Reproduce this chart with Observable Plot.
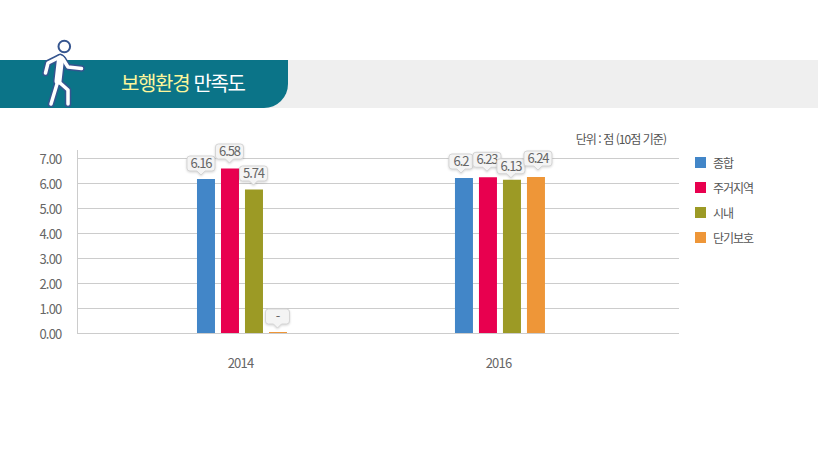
<!DOCTYPE html>
<html lang="ko">
<head>
<meta charset="utf-8">
<script src="https://cdn.jsdelivr.net/npm/d3@7"></script>
<script src="https://cdn.jsdelivr.net/npm/@observablehq/plot@0.6"></script>
<style>
  html, body { margin: 0; padding: 0; background: #fff; }
  body { width: 818px; height: 468px; overflow: hidden; position: relative;
         font-family: "Noto Sans CJK KR", "Noto Sans", sans-serif; }
  #chart { position: absolute; left: 0; top: 0; }
  #chart svg text { letter-spacing: -0.8px; }
  #chart svg text.callout { letter-spacing: -1.1px; }
  #band { position: absolute; left: 0; top: 60px; width: 818px; height: 48px; background: #efefef; }
  #tab { position: absolute; left: 0; top: 60px; width: 288px; height: 48px; background: #0b7488;
         border-bottom-right-radius: 24px; }
  #title { position: absolute; left: 121px; top: 68px; line-height: 30px; font-size: 20px;
           letter-spacing: -1.35px; color: #fff; white-space: nowrap; }
  #title b { font-weight: 400; color: #fdf69b; }
  #icon { position: absolute; left: 0; top: 0; }
  #unit { position: absolute; right: 152px; top: 130px; line-height: 18px; font-size: 12px;
          letter-spacing: -0.95px; color: #555; white-space: nowrap; }
  #legend { position: absolute; left: 695px; top: 150px; }
  .row { position: relative; height: 25px; line-height: 25px; font-size: 12px; letter-spacing: -1px;
         color: #555; padding-left: 18px; white-space: nowrap; }
  .row i { position: absolute; left: 0; top: 7px; width: 11px; height: 11px; }
</style>
</head>
<body>
<div id="band"></div>
<div id="tab"></div>
<svg id="icon" width="100" height="110" viewBox="0 0 100 110" fill="none" stroke-linecap="round" stroke-linejoin="round">
  <g stroke="#35558f">
    <path stroke-width="6.5" d="M60 57 L48 63 L45.5 73"/>
    <path stroke-width="6.5" d="M63 59 L68 67 L81.5 68.5"/>
    <path stroke-width="6.5" d="M59 82 L68 90 L68 104"/>
    <path stroke-width="6.5" d="M57 84 L51 104"/>
    <path stroke-width="10" d="M60.5 59 L58 81"/>
  </g>
  <g stroke="#fff">
    <path stroke-width="3.5" d="M60 57 L48 63 L45.5 73"/>
    <path stroke-width="3.5" d="M63 59 L68 67 L81.5 68.5"/>
    <path stroke-width="3.5" d="M59 82 L68 90 L68 104"/>
    <path stroke-width="3.5" d="M57 84 L51 104"/>
    <path stroke-width="7" d="M60.5 59 L58 81"/>
  </g>
  <circle cx="64.3" cy="46.5" r="5.8" fill="#fff" stroke="#35558f" stroke-width="2"/>
</svg>
<div id="title"><b>보행환경</b> 만족도</div>
<div id="unit">단위 : 점 (10점 기준)</div>
<div id="chart"></div>
<div id="legend"></div>
<script>
const years = [2014, 2016];
const seriesNames = ["종합", "주거지역", "시내", "단기보호"];
const colors = ["#4286c8", "#e8004f", "#9c9a25", "#ee9638"];
const values2014 = [6.16, 6.58, 5.74, 0.04];
const values2016 = [6.2, 6.23, 6.13, 6.24];
const labels2014 = ["6.16", "6.58", "5.74", "-"];
const labels2016 = ["6.2", "6.23", "6.13", "6.24"];
const yTicks = [0, 1, 2, 3, 4, 5, 6, 7];

// layout only: one year is 129px wide, one bar slot 24px, one bar 18px
const slot = 24 / 129, barWidth = 18 / 129;
const calloutNudge = [[-5, 0], [-0.5, -1.5], [-0.5, -0.5], [-0.5, 0], [-3, -1], [-1, -2], [-1, 2], [2, -3]];

const rows = years.flatMap((year, g) =>
  seriesNames.map((series, i) => ({
    year, series,
    value: (g ? values2016 : values2014)[i],
    label: (g ? labels2016 : labels2014)[i],
    x1: year + (i - 2) * slot + (slot - barWidth) / 2,
    x2: year + (i - 2) * slot + (slot - barWidth) / 2 + barWidth
  })));

function callouts(index, {x, y}) {
  const g = d3.create("svg:g").attr("font-size", 13);
  rows.forEach((d, n) => {
    const [nx, ny] = calloutNudge[n];
    const cx = x((d.x1 + d.x2) / 2) + nx;
    const tip = y(d.value) - 4 + ny;
    const w = d.label.length === 4 ? 28 : 24;
    const h = 15, l = cx - w / 2, r = cx + w / 2, b = tip - 4, t = b - h, c = 3;
    const item = g.append("g");
    item.append("path")
      .attr("d", `M${l + c},${t}H${r - c}Q${r},${t} ${r},${t + c}V${b - c}Q${r},${b} ${r - c},${b}H${cx + 4}L${cx},${tip}L${cx - 4},${b}H${l + c}Q${l},${b} ${l},${b - c}V${t + c}Q${l},${t} ${l + c},${t}Z`)
      .attr("fill", "#f4f4f4").attr("stroke", "#d5d5d5")
      .style("filter", "drop-shadow(0.5px 1px 1px rgba(0,0,0,0.16))");
    item.append("text").attr("class", "callout").attr("x", cx).attr("y", t + h / 2).attr("dy", "0.36em")
      .attr("text-anchor", "middle").attr("fill", "#666").text(d.label);
  });
  return g.node();
}

const chart = Plot.plot({
  width: 818, height: 468,
  marginLeft: 77, marginRight: 139, marginTop: 150, marginBottom: 135,
  style: {background: "transparent", fontFamily: '"Noto Sans CJK KR", "Noto Sans", sans-serif'},
  x: {domain: [2012.721, 2017.388]},
  y: {domain: [0, 7.32]},
  color: {domain: seriesNames, range: colors},
  marks: [
    Plot.ruleY(yTicks, {stroke: "#cccccc", strokeOpacity: 1, strokeWidth: 1}),
    Plot.ruleX([2012.721], {stroke: "#cccccc", strokeWidth: 1}),
    Plot.rect(rows, {x1: "x1", x2: "x2", y1: 0, y2: "value", fill: "series"}),
    Plot.axisY({ticks: yTicks, tickFormat: d => d.toFixed(2), tickSize: 0, tickPadding: 16, dy: 1, fontSize: 13, label: null, color: "#666"}),
    Plot.axisX({ticks: years, tickFormat: String, tickSize: 0, tickPadding: 25, dx: -2, fontSize: 13, label: null, color: "#666"}),
    callouts
  ]
});
document.getElementById("chart").append(chart);

const legend = document.getElementById("legend");
seriesNames.forEach((name, i) => {
  const row = document.createElement("div");
  row.className = "row";
  const swatch = document.createElement("i");
  swatch.style.background = colors[i];
  row.append(swatch, name);
  legend.append(row);
});
</script>
</body>
</html>
